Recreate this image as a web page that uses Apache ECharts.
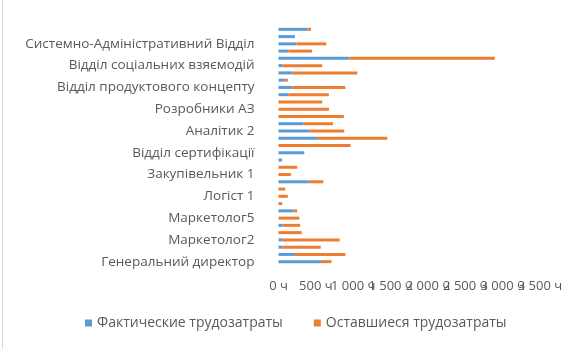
<!DOCTYPE html>
<html>
<head>
<meta charset="utf-8">
<script src="https://cdn.jsdelivr.net/npm/echarts@6/dist/echarts.min.js"></script>
<style>
  html, body { margin: 0; padding: 0; background: #fff; }
  #chart { width: 574px; height: 349px; }
</style>
</head>
<body>
<div id="chart"></div>
<script>
// Categories from bottom (index 0) to top; only every third one is labelled on the axis.
const categories = [
  'Генеральний директор',
  'Фінансовий директор',
  'Маркетолог1',
  'Маркетолог2',
  'Маркетолог3',
  'Маркетолог4',
  'Маркетолог5',
  'Маркетолог6',
  'Логіст 2',
  'Логіст 1',
  'Закупівельник 3',
  'Закупівельник 2',
  'Закупівельник 1',
  'Відділ якості',
  'Відділ логістики',
  'Відділ сертифікації',
  'Аналітик 3',
  'Аналітик 1',
  'Аналітик 2',
  'Розробники А1',
  'Розробники А2',
  'Розробники АЗ',
  'Дизайнери',
  'Тестувальники',
  'Відділ продуктового концепту',
  'Відділ розробки',
  'Відділ підтримки',
  'Відділ соціальних взяємодій',
  'Відділ продажів',
  'Відділ кадрів',
  'Системно-Адміністративний Відділ',
  'Бухгалтерія',
  'Юридичний відділ'
];

// Hours already spent
const actualHours = [
  570, 220, 55, 55, 0, 55, 0, 200, 0, 0,
  0, 405, 0, 0, 50, 345, 0, 515, 410, 330,
  0, 0, 0, 130, 185, 90, 185, 55, 950, 130,
  240, 220, 390
];

// Hours remaining
const remainingHours = [
  140, 675, 510, 765, 310, 235, 280, 50, 50, 125,
  90, 195, 165, 250, 0, 0, 965, 940, 470, 400,
  875, 675, 585, 545, 710, 35, 870, 530, 1945, 320,
  400, 0, 45
];

const seriesNames = ['Фактические трудозатраты', 'Оставшиеся трудозатраты'];
const xTicks = [0, 500, 1000, 1500, 2000, 2500, 3000, 3500];
const xMin = xTicks[0];
const xMax = xTicks[xTicks.length - 1];

const fmtHours = v => {
  const s = String(v).replace(/\B(?=(\d{3})+(?!\d))/g, ' ');
  return s + ' ч';
};

const chart = echarts.init(document.getElementById('chart'), null, { renderer: 'canvas' });
const font = '"Open Sans", "Noto Sans", sans-serif';

const labelStyle = {
  color: '#595959',
  fontSize: 13,
  margin: 14,
  hideOverlap: false
};

// Two value axes share one scale: the first prints every tick up to 3 000,
// the second prints only the closing 3 500 so the crowded labels all stay visible.
const baseAxis = {
  type: 'value',
  min: xMin,
  max: xMax,
  interval: xTicks[1] - xTicks[0],
  position: 'bottom',
  splitLine: { show: false },
  axisLine: { show: false },
  axisTick: { show: false }
};

chart.setOption({
  animation: false,
  backgroundColor: '#ffffff',
  textStyle: { fontFamily: font },
  grid: { left: 278.5, right: 34, top: 25.7, bottom: 83.7, containLabel: false },
  legend: {
    data: seriesNames,
    bottom: 14,
    left: 80,
    itemWidth: 7,
    itemHeight: 7,
    itemGap: 31,
    icon: 'rect',
    textStyle: { color: '#595959', fontSize: 14, fontFamily: font }
  },
  xAxis: [
    Object.assign({}, baseAxis, {
      axisLabel: Object.assign({}, labelStyle, {
        showMinLabel: true,
        showMaxLabel: false,
        formatter: v => (v === xMax ? '' : fmtHours(v))
      })
    }),
    Object.assign({}, baseAxis, {
      axisLabel: Object.assign({}, labelStyle, {
        showMinLabel: false,
        showMaxLabel: true,
        formatter: v => (v === xMax ? fmtHours(v) : '')
      })
    })
  ],
  yAxis: {
    type: 'category',
    data: categories,
    axisLine: { show: false },
    axisTick: { show: false },
    axisLabel: {
      interval: 2,
      color: '#595959',
      fontSize: 13.5,
      margin: 24
    }
  },
  series: [
    {
      name: seriesNames[0],
      type: 'bar',
      stack: 'hours',
      barWidth: 3,
      xAxisIndex: 0,
      itemStyle: { color: '#5B9BD5' },
      data: actualHours
    },
    {
      name: seriesNames[1],
      type: 'bar',
      stack: 'hours',
      barWidth: 3,
      xAxisIndex: 0,
      itemStyle: { color: '#ED7D31' },
      data: remainingHours
    }
  ],
  graphic: [
    {
      type: 'line',
      shape: { x1: 2.5, y1: 0, x2: 2.5, y2: 349 },
      style: { stroke: '#d9d9d9', lineWidth: 1 }
    }
  ]
});
</script>
</body>
</html>
